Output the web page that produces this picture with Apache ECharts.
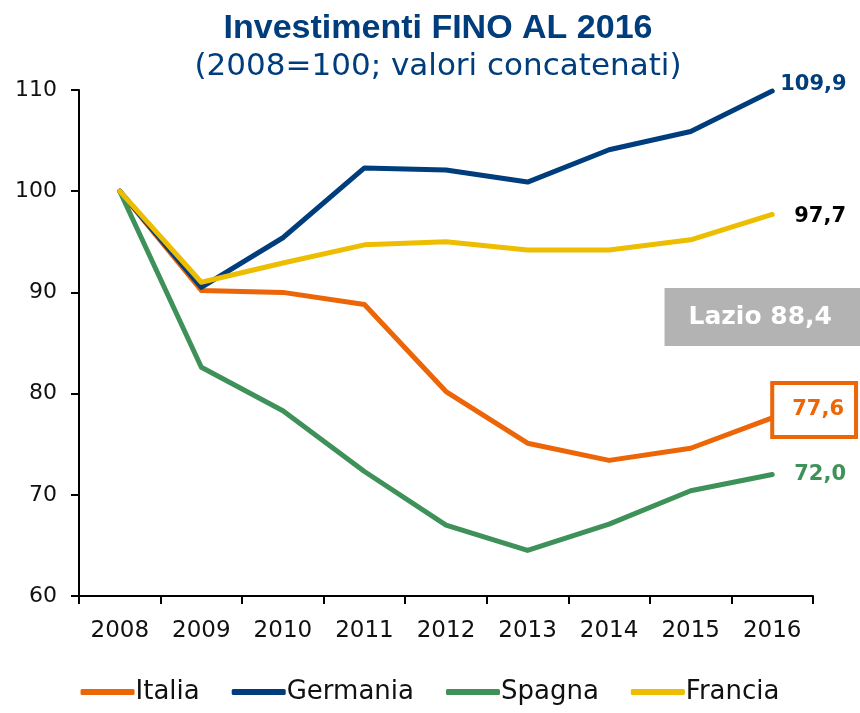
<!DOCTYPE html>
<html>
<head>
<meta charset="utf-8">
<script src="https://cdn.jsdelivr.net/npm/echarts@6/dist/echarts.min.js"></script>
<style>
  html, body { margin: 0; padding: 0; background: #fff; }
  #chart { width: 860px; height: 713px; }
</style>
</head>
<body>
<div id="chart"></div>
<script>
// dati (2008=100)
var anni = ['2008', '2009', '2010', '2011', '2012', '2013', '2014', '2015', '2016'];
var italia   = [100, 90.2, 90.0, 88.8, 80.2, 75.1, 73.4, 74.6, 77.6];
var germania = [100, 90.5, 95.4, 102.3, 102.1, 100.9, 104.1, 105.9, 109.9];
var spagna   = [100, 82.6, 78.3, 72.3, 67.0, 64.5, 67.1, 70.4, 72.0];
var francia  = [100, 91.0, 92.9, 94.7, 95.0, 94.2, 94.2, 95.2, 97.7];
var lazio = 88.4;

var font = '"DejaVu Sans", sans-serif';
var colori = {
  italia: '#ec6608',
  germania: '#003d7c',
  spagna: '#3f915a',
  francia: '#edbd00'
};

function virgola(v) {
  return v.toFixed(1).replace('.', ',');
}

var chart = echarts.init(document.getElementById('chart'));

function serie(nome, dati, colore, label) {
  return {
    name: nome,
    type: 'line',
    data: dati,
    symbol: 'none',
    lineStyle: { width: 5, color: colore, cap: 'round', join: 'round' },
    itemStyle: { color: colore },
    endLabel: Object.assign({
      show: true,
      fontFamily: font,
      fontWeight: 'bold',
      fontSize: 21,
      formatter: function (p) { return virgola(p.value); }
    }, label)
  };
}

var option = {
  animation: false,
  title: [{
    text: 'Investimenti FINO AL 2016',
    left: 433,
    textAlign: 'center',
    top: 7,
    textStyle: {
      fontFamily: '"Liberation Sans Narrow", "Liberation Sans", sans-serif',
      fontWeight: 'bold',
      fontSize: 34,
      color: colori.germania
    }
  }, {
    text: '(2008=100; valori concatenati)',
    left: 433,
    textAlign: 'center',
    top: 46,
    textStyle: {
      fontFamily: font,
      fontWeight: 'normal',
      fontSize: 31,
      color: colori.germania
    }
  }, {
    text: 'Lazio ' + virgola(lazio),
    right: 0,
    top: 288,
    backgroundColor: '#b3b3b3',
    padding: [17, 28, 16, 24],
    textStyle: {
      fontFamily: font,
      fontWeight: 'bold',
      fontSize: 25,
      color: '#fff'
    }
  }],
  legend: {
    bottom: 3,
    left: 'center',
    itemWidth: 54,
    itemHeight: 6,
    itemGap: 32,
    icon: 'roundRect',
    textStyle: { fontFamily: font, fontSize: 26, color: '#111', padding: [0, 0, 0, -4] },
    data: ['Italia', 'Germania', 'Spagna', 'Francia']
  },
  grid: {
    left: 79,
    right: 47,
    top: 90,
    bottom: 117,
    containLabel: false
  },
  xAxis: {
    type: 'category',
    data: anni,
    boundaryGap: true,
    axisLine: { lineStyle: { color: '#000', width: 2 } },
    axisTick: { show: true, length: 8, lineStyle: { color: '#000', width: 2 } },
    axisLabel: { fontFamily: font, fontSize: 23, color: '#111', margin: 24 }
  },
  yAxis: {
    type: 'value',
    min: 60,
    max: 110,
    interval: 10,
    splitLine: { show: false },
    axisLine: { show: true, lineStyle: { color: '#000', width: 2 } },
    axisTick: { show: true, length: 8, lineStyle: { color: '#000', width: 2 } },
    axisLabel: { fontFamily: font, fontSize: 22, color: '#111', margin: 22 }
  },
  series: [
    serie('Italia', italia, colori.italia, {
      color: colori.italia,
      distance: 2,
      offset: [0, -8],
      borderColor: colori.italia,
      borderWidth: 4,
      padding: [15, 10, 14, 18],
      backgroundColor: '#fff'
    }),
    serie('Germania', germania, colori.germania, {
      color: colori.germania,
      distance: 8,
      offset: [0, -6]
    }),
    serie('Spagna', spagna, colori.spagna, {
      color: colori.spagna,
      distance: 22
    }),
    serie('Francia', francia, colori.francia, {
      color: '#000',
      distance: 22,
      offset: [0, 2]
    })
  ]
};

chart.setOption(option);
</script>
</body>
</html>
